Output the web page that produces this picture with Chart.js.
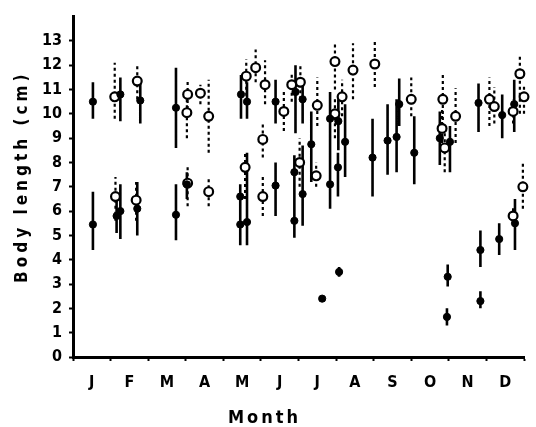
<!DOCTYPE html>
<html>
<head>
<meta charset="utf-8">
<script src="https://cdn.jsdelivr.net/npm/chart.js@4.4.0/dist/chart.umd.min.js"></script>
<style>
html,body{margin:0;padding:0;background:#fff;}
#wrap{width:536px;height:427px;}
</style>
</head>
<body>
<div id="wrap"><canvas id="c" width="536" height="427"></canvas></div>
<script>
const months = ['J','F','M','A','M','J','J','A','S','O','N','D'];
const yTickMax = 13;

// filled symbols (solid range lines)
const filledX    = [0.53,1.26,1.79,2.74,4.47,4.63,5.39,5.92,6.11,6.34,6.84,6.84,7.06,7.05,7.24,7.97,8.37,8.61,8.68,9.08,9.76,10.03,10.79,11.42,11.74,
                    0.53,1.16,1.26,1.71,2.74,3.03,4.45,4.63,4.45,5.39,5.89,5.89,6.11,6.63,7.08,9.97,9.95,10.84,10.84,11.34,11.76];
const filledMean = [10.5,10.8,10.55,10.25,10.8,10.5,10.5,10.9,10.6,8.75,9.8,7.1,9.7,7.8,8.85,8.2,8.9,9.05,10.4,8.4,9.0,8.85,10.45,9.95,10.4,
                    5.45,5.8,6.0,6.1,5.85,7.1,5.45,5.55,6.6,7.05,7.6,5.6,6.7,2.4,3.5,3.3,1.65,4.4,2.3,4.85,5.5];
const filledMin  = [9.8,9.7,9.6,8.6,9.8,9.8,9.6,9.2,9.6,7.2,6.1,6.1,8.5,6.6,7.4,6.6,7.5,7.6,9.5,7.1,7.9,7.6,9.25,9.0,9.25,
                    4.4,5.1,4.85,5.0,4.8,6.5,4.6,4.6,6.6,5.8,6.2,4.9,5.4,2.35,3.3,2.9,1.3,3.7,2.0,4.2,4.4];
const filledMax  = [11.3,11.5,11.4,11.9,11.6,11.3,11.4,12.0,11.3,10.1,10.9,7.6,10.6,8.4,10.4,9.8,10.4,10.6,11.45,9.9,10.1,9.5,11.25,10.8,11.4,
                    6.8,6.5,7.1,7.2,7.1,7.6,7.1,8.4,6.6,8.0,8.3,6.4,8.7,2.5,3.7,3.8,2.0,5.2,2.7,5.5,6.5];

// open symbols (dashed range lines)
const openX    = [1.11,1.71,3.05,3.03,3.39,3.61,4.61,4.86,5.11,5.61,5.82,6.05,6.50,6.97,6.97,7.16,7.45,8.03,9.0,9.84,9.82,9.89,10.18,11.08,11.21,11.89,12.0,11.71,
                  1.13,1.68,3.05,3.61,4.58,5.05,5.05,6.03,6.47,11.71,11.97];
const openMean = [10.7,11.35,10.8,10.05,10.85,9.9,11.55,11.9,11.2,10.1,11.2,11.3,10.35,12.15,10.0,10.7,11.8,12.05,10.6,10.6,9.4,8.6,9.9,10.6,10.3,11.65,10.7,10.1,
                  6.6,6.45,7.15,6.8,7.8,6.6,8.95,8.0,7.45,5.8,7.0];
const openMin  = [9.8,10.6,10.2,9.0,10.4,8.4,10.5,11.3,10.4,9.3,10.5,10.6,9.5,11.0,9.0,9.9,10.6,11.1,9.9,9.5,8.8,7.6,8.8,9.5,9.6,10.0,10.0,9.6,
                  5.6,5.6,6.2,6.2,6.5,5.8,8.2,7.0,7.0,5.5,6.1];
const openMax  = [12.1,12.0,11.4,10.6,11.2,11.4,12.25,12.65,12.2,11.0,11.7,12.0,11.5,12.85,10.6,11.4,12.9,13.0,11.5,11.7,10.2,9.25,11.05,11.5,11.1,12.4,11.2,10.6,
                  7.4,7.2,7.9,7.4,8.45,7.4,9.6,9.0,8.0,6.2,8.0];

function rangeSegments(xs, mins, maxs) {
  const out = [];
  for (let i = 0; i < xs.length; i++) {
    if (maxs[i] > mins[i]) {
      out.push({x: xs[i], y: mins[i]}, {x: xs[i], y: maxs[i]}, {x: xs[i], y: null});
    }
  }
  return out;
}
function points(xs, ys) { return xs.map((x, i) => ({x: x, y: ys[i]})); }

const FONT = "'Liberation Sans Narrow', 'DejaVu Sans Condensed', 'Liberation Sans', sans-serif";

const spacingPlugin = {
  id: 'titleSpacing',
  afterLayout(chart) {
    const cfg = {x: {sp: '3px', dx: -34, dy: 4}, y: {sp: '4px', dx: 0, dy: -10}};
    ['x','y'].forEach(id => {
      const s = chart.scales[id];
      if (s && !s._patched) {
        const orig = s.drawTitle.bind(s);
        s.drawTitle = function () {
          const ctx = this.ctx;
          ctx.save();
          ctx.letterSpacing = cfg[id].sp;
          ctx.translate(cfg[id].dx, cfg[id].dy);
          orig();
          ctx.restore();
        };
        s._patched = true;
      }
    });
  }
};

new Chart(document.getElementById('c'), {
  type: 'scatter',
  data: {
    datasets: [
      { type: 'scatter', data: points(filledX, filledMean), pointStyle: 'circle', pointRadius: 3.6,
        backgroundColor: '#000', borderColor: '#000', borderWidth: 1, order: 0, clip: false },
      { type: 'scatter', data: points(openX, openMean), pointStyle: 'circle', pointRadius: 4.4,
        backgroundColor: '#fff', borderColor: '#000', borderWidth: 2.2, order: 0, clip: false },
      { type: 'line', data: rangeSegments(filledX, filledMin, filledMax), borderColor: '#000', borderWidth: 2.6,
        pointRadius: 0, spanGaps: false, fill: false, order: 1, clip: false },
      { type: 'line', data: rangeSegments(openX, openMin, openMax), borderColor: '#000', borderWidth: 2.2,
        borderDash: [3, 3], pointRadius: 0, spanGaps: false, fill: false, order: 1, clip: false }
    ]
  },
  options: {
    responsive: false,
    animation: false,
    devicePixelRatio: 1,
    layout: { padding: { top: 7, right: 7, left: 0, bottom: 0 } },
    plugins: { legend: { display: false }, tooltip: { enabled: false } },
    scales: {
      x: {
        type: 'linear', min: 0, max: 12,
        afterBuildTicks(scale) {
          const t = [];
          for (let v = 0; v <= 24; v++) t.push({ value: v / 2 });
          scale.ticks = t;
        },
        afterFit(scale) { scale.height = 70; },
        border: { display: true, color: '#000', width: 3 },
        grid: {
          drawOnChartArea: false, drawTicks: true, tickLength: 4,
          tickColor: ctx => (ctx.tick && ctx.tick.value % 1 === 0) ? '#000' : 'rgba(0,0,0,0)',
          tickWidth: 2
        },
        ticks: {
          autoSkip: false, maxRotation: 0, padding: 12, color: '#000',
          font: { family: FONT, size: 16, weight: 'bold' },
          callback: v => (v % 1 === 0.5) ? months[Math.floor(v)] : ''
        },
        title: {
          display: true, text: 'Month', color: '#000',
          font: { family: FONT, size: 18, weight: 'bold' },
          padding: { top: 0, bottom: 2 }
        }
      },
      y: {
        type: 'linear', min: 0, max: 14,
        afterBuildTicks(scale) {
          const t = [];
          for (let v = 0; v <= yTickMax; v++) t.push({ value: v });
          scale.ticks = t;
        },
        afterFit(scale) { scale.width = 73; },
        border: { display: true, color: '#000', width: 3 },
        grid: { drawOnChartArea: false, drawTicks: true, tickLength: 4, tickColor: '#000', tickWidth: 2 },
        ticks: {
          padding: 7, color: '#000',
          font: { family: FONT, size: 16, weight: 'bold' }
        },
        title: {
          display: true, text: 'Body length (cm)', color: '#000',
          font: { family: FONT, size: 17, weight: 'bold' },
          padding: { top: 12, bottom: 0 }
        }
      }
    }
  },
  plugins: [spacingPlugin]
});
</script>
</body>
</html>
